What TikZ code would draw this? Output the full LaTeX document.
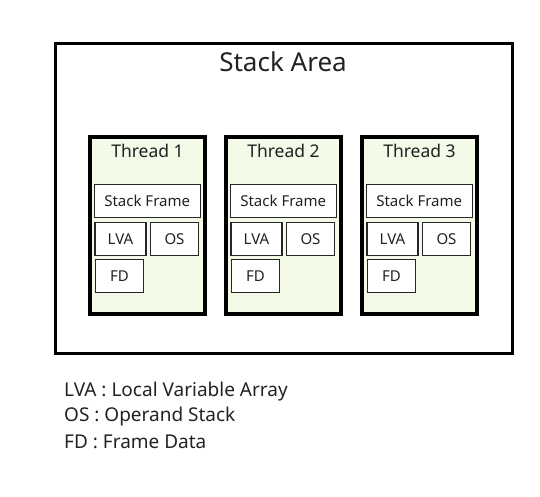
\documentclass[tikz,border=0pt]{standalone}
\usepackage{fontspec}
\setmainfont{Noto Sans}
\definecolor{threadfill}{HTML}{F3FAE8}
\definecolor{txt}{HTML}{222222}
\begin{document}
\begin{tikzpicture}[x=1pt,y=-1pt,
  outerbox/.style={draw=black,line width=3pt,minimum width=457pt,minimum height=310pt,inner sep=0pt},
  threadbox/.style={draw=black,line width=4pt,fill=threadfill,minimum width=115pt,minimum height=177pt,inner sep=0pt},
  itembox/.style={draw=black!85,line width=1.3pt,fill=white,minimum height=33pt,inner sep=0pt,text=txt,font=\fontsize{15}{17}\selectfont},
  titletext/.style={text=txt,inner sep=0pt},
  legendtext/.style={text=txt,inner sep=0pt,anchor=west,font=\fontsize{19}{22}\selectfont}]
\useasboundingbox (0,0) rectangle (540,496);
\node[outerbox] (area) at (284,198.5) {};
\node[titletext,font=\fontsize{26}{30}\selectfont] (areatitle) at (283,62) {Stack Area};
\foreach \i/\x in {1/147.5,2/283.5,3/419.5}{
  \node[threadbox] (t\i) at (\x,225.5) {};
  \node[titletext,font=\fontsize{17.5}{20}\selectfont] (t\i title) at (\x,150.5) {Thread \i};
  \node[itembox,minimum width=106pt] (t\i sf) at (\x-0.3,201) {Stack Frame};
  \node[itembox,minimum width=51pt] (t\i lva) at (\x-27,238.7) {LVA};
  \node[itembox,minimum width=47.5pt] (t\i os) at (\x+27,238.7) {OS};
  \node[itembox,minimum width=48pt] (t\i fd) at (\x-28,276.3) {FD};
}
\node[legendtext] (l1) at (64,392) {LVA : Local Variable Array};
\node[legendtext] (l2) at (64,417) {OS : Operand Stack};
\node[legendtext] (l3) at (64,442) {FD : Frame Data};
\end{tikzpicture}
\end{document}
